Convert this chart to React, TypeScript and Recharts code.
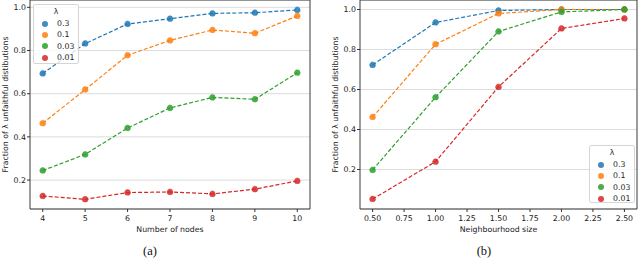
import React from "react";
import {
  LineChart,
  Line,
  XAxis,
  YAxis,
  CartesianGrid,
  ReferenceArea,
} from "recharts";

// (a) fraction vs number of nodes
const nodes = [4, 5, 6, 7, 8, 9, 10];
const nodesL03 = [0.694, 0.832, 0.923, 0.947, 0.972, 0.975, 0.988];
const nodesL01 = [0.463, 0.619, 0.778, 0.847, 0.895, 0.88, 0.96];
const nodesL003 = [0.244, 0.319, 0.441, 0.534, 0.583, 0.574, 0.697];
const nodesL001 = [0.126, 0.111, 0.142, 0.145, 0.136, 0.158, 0.196];

// (b) fraction vs neighbourhood size
const sizes = [0.5, 1.0, 1.5, 2.0, 2.5];
const sizeL03 = [0.723, 0.935, 0.995, 1.0, 1.0];
const sizeL01 = [0.462, 0.826, 0.98, 1.0, 1.0];
const sizeL003 = [0.198, 0.561, 0.89, 0.988, 1.0];
const sizeL001 = [0.052, 0.239, 0.613, 0.905, 0.955];

const lambdas = ["0.3", "0.1", "0.03", "0.01"];
const colors = ["#1f77b4", "#ff7f0e", "#2ca02c", "#d62728"];
const keys = ["l03", "l01", "l003", "l001"];

const yTicks = [0.2, 0.4, 0.6, 0.8, 1.0];
const nodeTicks = [4, 5, 6, 7, 8, 9, 10];
const sizeTicks = [0.5, 0.75, 1.0, 1.25, 1.5, 1.75, 2.0, 2.25, 2.5];

const nodesData = nodes.map((n, i) => ({
  x: n,
  l03: nodesL03[i],
  l01: nodesL01[i],
  l003: nodesL003[i],
  l001: nodesL001[i],
}));

const sizeData = sizes.map((s, i) => ({
  x: s,
  l03: sizeL03[i],
  l01: sizeL01[i],
  l003: sizeL003[i],
  l001: sizeL001[i],
}));

const FONT = "DejaVu Sans, sans-serif";
const tickStyle = { fontSize: 7.8, fill: "#222", fontFamily: FONT };
const YLABEL = "Fraction of λ unfaithful distibutions";

// legend box drawn like matplotlib's (title + marker rows)
const LambdaLegend = ({ left, top, width, height }: any) => (
  <div
    style={{
      position: "absolute",
      left,
      top,
      width,
      height,
      boxSizing: "border-box",
      background: "rgba(255,255,255,0.8)",
      border: "1px solid #d6d6d6",
      borderRadius: 2,
      fontFamily: FONT,
      fontSize: 7.8,
      color: "#222",
    }}
  >
    <div style={{ position: "absolute", top: 2, left: 0, width: "100%", textAlign: "center" }}>λ</div>
    {lambdas.map((l, i) => (
      <div
        key={l}
        style={{ position: "absolute", top: 13.5 + i * 11.4, left: 8, height: 10, display: "flex", alignItems: "center" }}
      >
        <span
          style={{
            display: "inline-block",
            width: 6,
            height: 6,
            borderRadius: 3,
            background: colors[i],
            opacity: 0.85,
            marginRight: 9,
          }}
        />
        <span>{l}</span>
      </div>
    ))}
  </div>
);

const yLabel = (cx: number) => (props: any) => {
  const vb = props.viewBox || {};
  const cy = vb.y + vb.height / 2;
  return (
    <text
      x={cx}
      y={cy}
      transform={`rotate(-90, ${cx}, ${cy})`}
      textAnchor="middle"
      dominantBaseline="central"
      style={{ fontSize: 7.8, fill: "#222", fontFamily: FONT }}
    >
      {YLABEL}
    </text>
  );
};

const xLabel = (text: string) => (props: any) => {
  const vb = props.viewBox || {};
  return (
    <text
      x={vb.x + vb.width / 2}
      y={232}
      textAnchor="middle"
      style={{ fontSize: 7.8, fill: "#222", fontFamily: FONT }}
    >
      {text}
    </text>
  );
};

function Panel({
  data,
  xDomain,
  yDomain,
  xTicks,
  xFmt,
  yAxisWidth,
  rightMargin,
  labelX,
  xTitle,
}: any) {
  return (
    <LineChart
      width={320}
      height={259}
      data={data}
      margin={{ top: 0, right: rightMargin, left: 0, bottom: 0 }}
    >
      <CartesianGrid vertical={false} stroke="#dcdcdc" strokeWidth={1} />
      <XAxis
        dataKey="x"
        type="number"
        domain={xDomain}
        ticks={xTicks}
        tickFormatter={xFmt}
        allowDataOverflow
        height={50}
        tickSize={3}
        tickMargin={3}
        tick={tickStyle}
        axisLine={false}
        tickLine={{ stroke: "#333" }}
        label={{ content: xLabel(xTitle) } as any}
      />
      <YAxis
        type="number"
        domain={yDomain}
        ticks={yTicks}
        tickFormatter={(v: number) => v.toFixed(1)}
        allowDataOverflow
        width={yAxisWidth}
        tickSize={3}
        tickMargin={1}
        tick={tickStyle}
        axisLine={false}
        tickLine={{ stroke: "#333" }}
        label={{ content: yLabel(labelX) } as any}
      />
      {keys.map((k, i) => (
        <Line
          key={k}
          dataKey={k}
          type="linear"
          stroke={colors[i]}
          strokeWidth={1.2}
          strokeDasharray="4 2"
          dot={{ r: 3, fill: colors[i], fillOpacity: 0.85, stroke: colors[i], strokeOpacity: 0.5, strokeWidth: 0.8 }}
          isAnimationActive={false}
        />
      ))}
      <ReferenceArea
        x1={xDomain[0]}
        x2={xDomain[1]}
        y1={yDomain[0]}
        y2={yDomain[1]}
        fill="none"
        stroke="#3a3a3a"
        strokeWidth={1}
        ifOverflow="visible"
      />
    </LineChart>
  );
}

export default function App() {
  return (
    <div style={{ position: "absolute", left: 0, top: 0, width: 640, height: 259, background: "#fff" }}>
      <div style={{ position: "absolute", left: 0, top: 0 }}>
        <Panel
          data={nodesData}
          xDomain={[3.7, 10.3]}
          yDomain={[0.066, 1.034]}
          xTicks={nodeTicks}
          xFmt={(v: number) => String(v)}
          yAxisWidth={30}
          rightMargin={10}
          labelX={5}
          xTitle="Number of nodes"
        />
      </div>
      <div style={{ position: "absolute", left: 320, top: 0 }}>
        <Panel
          data={sizeData}
          xDomain={[0.4, 2.6]}
          yDomain={[0.0025, 1.0475]}
          xTicks={sizeTicks}
          xFmt={(v: number) => v.toFixed(2)}
          yAxisWidth={40}
          rightMargin={3}
          labelX={15}
          xTitle="Neighbourhood size"
        />
      </div>
      <LambdaLegend left={33} top={4} width={46} height={60} />
      <LambdaLegend left={589} top={145} width={46} height={58} />
      <div
        style={{
          position: "absolute",
          left: 0,
          top: 244,
          width: 300,
          textAlign: "center",
          fontFamily: "Liberation Serif, serif",
          fontSize: 12.5,
          color: "#111",
        }}
      >
        (a)
      </div>
      <div
        style={{
          position: "absolute",
          left: 334,
          top: 244,
          width: 300,
          textAlign: "center",
          fontFamily: "Liberation Serif, serif",
          fontSize: 12.5,
          color: "#111",
        }}
      >
        (b)
      </div>
    </div>
  );
}
